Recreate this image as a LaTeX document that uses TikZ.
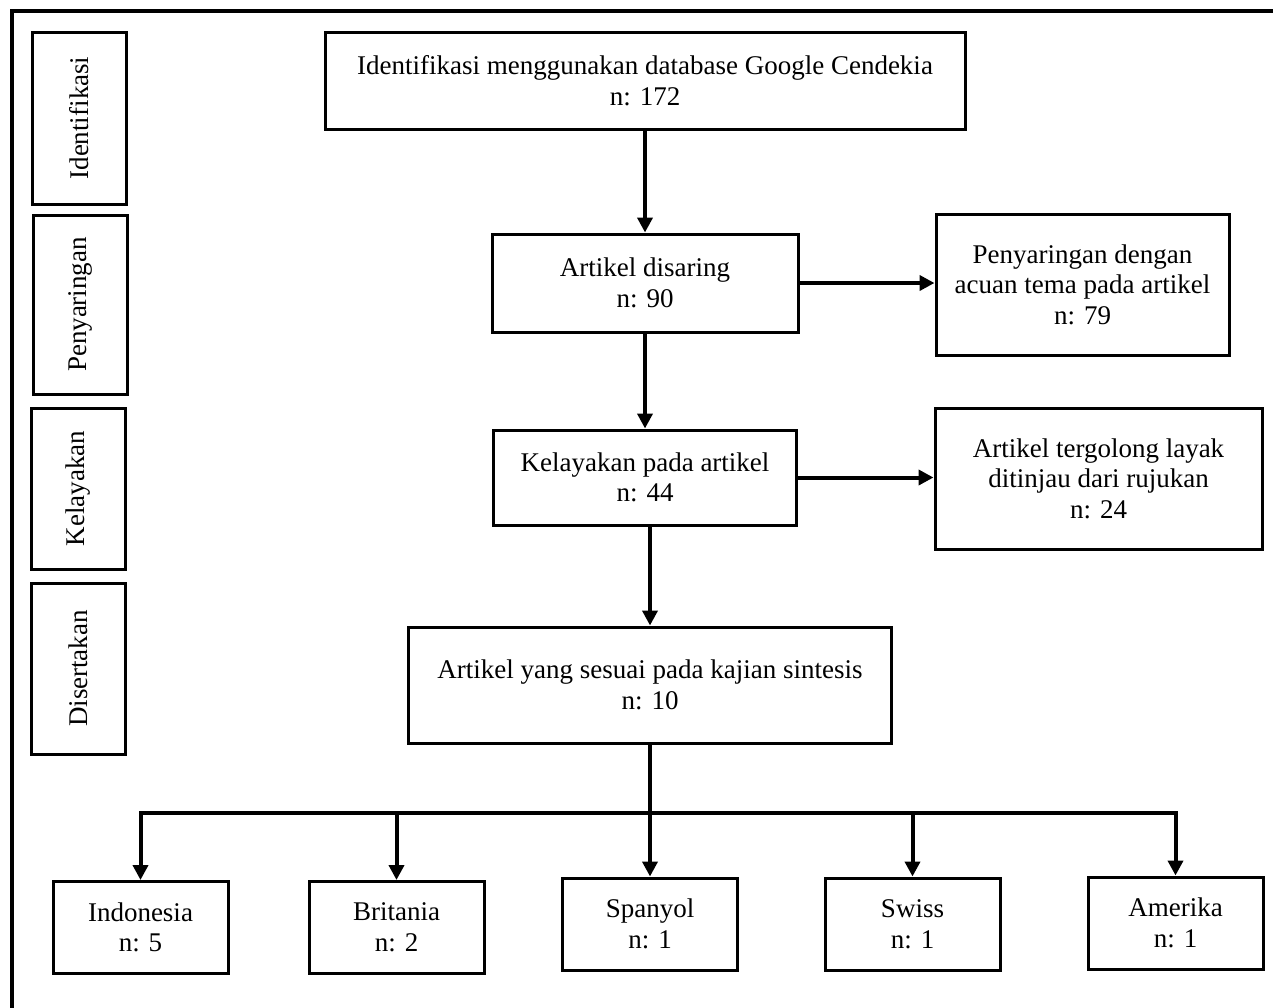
\documentclass[tikz,border=0pt]{standalone}
\usepackage{fontspec}
\setmainfont{Liberation Serif}
\usetikzlibrary{arrows.meta}
\begin{document}
\begin{tikzpicture}[x=0.5pt,y=-0.5pt]
        \tikzstyle{box}=[rectangle,draw,line width=1.5pt,inner sep=0pt,align=center,font=\fontsize{13.5}{15.3}\selectfont]
        \tikzstyle{stage}=[box,rotate=90,minimum height=47pt]
        \tikzstyle{country}=[box,minimum width=87.5pt,minimum height=46pt]
        \tikzstyle{flow}=[line width=2pt,-{Triangle[length=7.5pt,width=7.5pt]}]
        \useasboundingbox (0,0) rectangle (1273,1007);
        \draw [line width=2pt] (11.5,1012) -- (11.5,10.5) -- (1280,10.5);
        \node [stage,minimum width=86pt] (sident) at (79,118) {Identifikasi};
        \node [stage,minimum width=89.5pt] (sfilter) at (80,304.5) {Penyaringan};
        \node [stage,minimum width=80.5pt] (selig) at (78.5,488.5) {Kelayakan};
        \node [stage,minimum width=85.5pt] (sincl) at (78.5,668.5) {Disertakan};
        \node [box,minimum width=320pt,minimum height=48.5pt] (ident) at (645,80.5) {Identifikasi menggunakan database Google Cendekia\\n: 172};
        \node [box,minimum width=153pt,minimum height=49pt] (filter) at (645,283) {Artikel disaring\\n: 90};
        \node [box,minimum width=146.5pt,minimum height=70.5pt] (theme) at (1082.5,284.5) {Penyaringan dengan\\acuan tema pada artikel\\n: 79};
        \node [box,minimum width=151.5pt,minimum height=47.5pt] (elig) at (645,477.5) {Kelayakan pada artikel\\n: 44};
        \node [box,minimum width=163.5pt,minimum height=70.5pt] (worthy) at (1098.5,478.5) {Artikel tergolong layak\\ditinjau dari rujukan\\n: 24};
        \node [box,minimum width=241.5pt,minimum height=58pt] (synth) at (650,685) {Artikel yang sesuai pada kajian sintesis\\n: 10};
        \node [country] (idn) at (140.5,927.5) {Indonesia\\n: 5};
        \node [country] (gbr) at (396.5,927.5) {Britania\\n: 2};
        \node [country] (esp) at (650,924) {Spanyol\\n: 1};
        \node [country] (che) at (912.5,924) {Swiss\\n: 1};
        \node [country] (usa) at (1175.5,923) {Amerika\\n: 1};
        \coordinate (fork) at (650,813);
        \draw [flow] (ident) -- (filter);
        \draw [flow] (filter.east) -- (filter.east -| theme.west);
        \draw [flow] (filter) -- (elig);
        \draw [flow] (elig.east) -- (elig.east -| worthy.west);
        \draw [flow] (elig.south -| synth.north) -- (synth.north);
        \draw [line width=2pt] (synth.south) -- (fork);
        \draw [flow] (fork) -- (esp);
        \draw [flow] (fork) -| (idn);
        \draw [flow] (fork) -| (usa);
        \draw [flow] (fork -| gbr) -- (gbr);
        \draw [flow] (fork -| che) -- (che);
    \end{tikzpicture}
\end{document}
